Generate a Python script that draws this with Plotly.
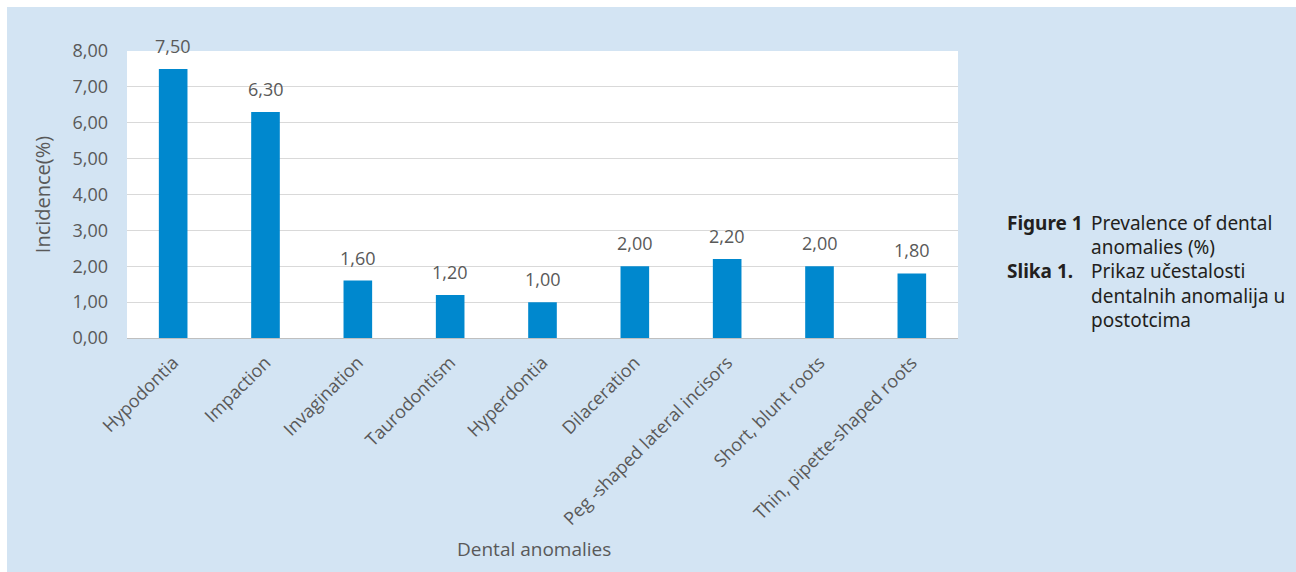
import plotly.graph_objects as go

categories = ["Hypodontia", "Impaction", "Invagination", "Taurodontism", "Hyperdontia",
              "Dilaceration", "Peg -shaped lateral incisors", "Short, blunt roots",
              "Thin, pipette-shaped roots"]
incidence = [7.50, 6.30, 1.60, 1.20, 1.00, 2.00, 2.20, 2.00, 1.80]
y_ticks = [0, 1, 2, 3, 4, 5, 6, 7, 8]

W, H = 1296, 572
L, R, T, B = 127, 338, 51, 234
PW, PH = W - L - R, H - T - B

def px(x):
    return (x - L) / PW

def py(y):
    return (H - B - y) / PH

BLUE_BG = "#d3e4f3"
TXT = "#595959"
FONT = "Open Sans"

fig = go.Figure()
fig.add_trace(go.Bar(x=categories, y=incidence, marker=dict(color="#0088ce", line=dict(width=0)),
                     width=0.31, hoverinfo="x+y"))

annotations = []
for c, v in zip(categories, incidence):
    annotations.append(dict(x=c, y=v, xref="x", yref="y", text=f"{v:.2f}".replace(".", ","),
                            showarrow=False, yanchor="bottom", yshift=9,
                            font=dict(family=FONT, size=18, color=TXT)))

# caption
cap_font = dict(family="Noto Sans", size=19, color="#231f20")
cap_lines = [
    (223, "<b>Figure 1</b>", "Prevalence of dental"),
    (247, "", "anomalies (%)"),
    (271, "<b>Slika 1.</b>", "Prikaz učestalosti"),
    (296, "", "dentalnih anomalija u"),
    (320, "", "postotcima"),
]
for yy, left, right in cap_lines:
    if left:
        annotations.append(dict(x=px(1005), y=py(yy), xref="paper", yref="paper", text=left,
                                showarrow=False, xanchor="left", yanchor="middle", font=cap_font))
    annotations.append(dict(x=px(1089), y=py(yy), xref="paper", yref="paper", text=right,
                            showarrow=False, xanchor="left", yanchor="middle", font=cap_font))

# x title
annotations.append(dict(x=0.5, y=py(549), xref="paper", yref="paper", text="Dental anomalies",
                        showarrow=False, xanchor="center", yanchor="middle",
                        xshift=-9, font=dict(family=FONT, size=19, color=TXT)))

shapes = [
    dict(type="rect", xref="paper", yref="paper", x0=px(0), x1=px(W), y0=py(0), y1=py(7),
         fillcolor="white", line=dict(width=0), layer="above"),
    dict(type="rect", xref="paper", yref="paper", x0=px(0), x1=px(7), y0=py(0), y1=py(H),
         fillcolor="white", line=dict(width=0), layer="above"),
]

fig.update_layout(
    width=W, height=H,
    margin=dict(l=L, r=R, t=T, b=B, pad=0),
    paper_bgcolor=BLUE_BG, plot_bgcolor="white",
    separators=",.",
    showlegend=False,
    font=dict(family=FONT, color=TXT),
    annotations=annotations,
    shapes=shapes,
    xaxis=dict(tickangle=-45, tickfont=dict(family=FONT, size=18, color=TXT),
               showline=True, linecolor="#bfbfbf", linewidth=1, showgrid=False,
               ticks="", ticklabelstandoff=6, fixedrange=True),
    yaxis=dict(range=[0, 8], tickvals=y_ticks, tickformat=".2f",
               tickfont=dict(family=FONT, size=18, color=TXT),
               gridcolor="#d9d9d9", gridwidth=1, zeroline=False, showline=False,
               ticks="", ticklabelstandoff=18,
               title=dict(text="Incidence(%)", font=dict(family=FONT, size=20, color=TXT), standoff=16)),
)

fig.write_html("out.html")
